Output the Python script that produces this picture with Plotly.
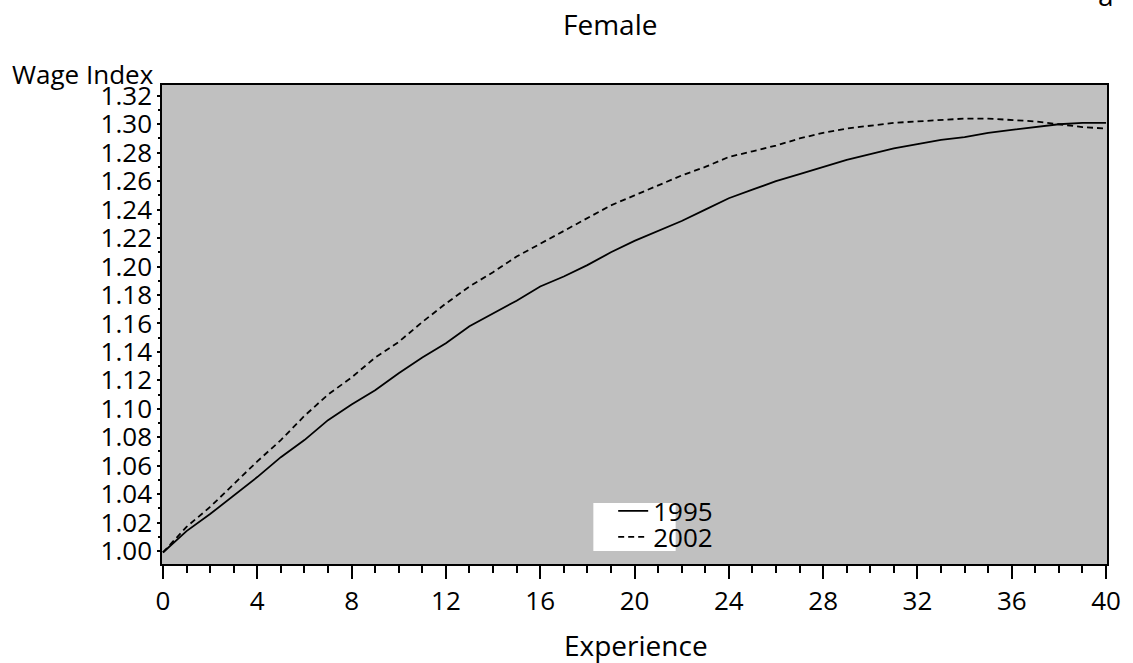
import plotly.graph_objects as go

experience = list(range(0, 41))

wage_1995 = [0.999, 1.014, 1.026, 1.039, 1.052, 1.066, 1.078, 1.092, 1.103, 1.113,
             1.125, 1.136, 1.146, 1.158, 1.167, 1.176, 1.186, 1.193, 1.201, 1.210,
             1.218, 1.225, 1.232, 1.240, 1.248, 1.254, 1.260, 1.265, 1.270, 1.275,
             1.279, 1.283, 1.286, 1.289, 1.291, 1.294, 1.296, 1.298, 1.300, 1.301,
             1.301]

wage_2002 = [0.999, 1.017, 1.031, 1.047, 1.063, 1.078, 1.095, 1.110, 1.122, 1.136,
             1.147, 1.161, 1.174, 1.186, 1.196, 1.207, 1.216, 1.225, 1.234, 1.243,
             1.250, 1.257, 1.264, 1.270, 1.277, 1.281, 1.285, 1.290, 1.294, 1.297,
             1.299, 1.301, 1.302, 1.303, 1.304, 1.304, 1.303, 1.302, 1.300, 1.298,
             1.297]

series_names = ["1995", "2002"]
x_ticks = list(range(0, 41, 4))
y_ticks = [round(1.00 + 0.02 * i, 2) for i in range(17)]

FONT = "Open Sans"
W, H = 1133, 663
# plot area in page pixels
PL, PR, PT, PB = 162, 1115, 85, 564
L, T, R, B = PL, PT, W - PR, H - PB
PW, PH = W - L - R, H - T - B


def px(x):
    return (x - L) / PW


def py(y):
    return (H - B - y) / PH


fig = go.Figure()
fig.add_trace(go.Scatter(x=experience, y=wage_1995, mode="lines", name=series_names[0],
                         line=dict(color="black", width=1.8), legend="legend"))
fig.add_trace(go.Scatter(x=experience, y=wage_2002, mode="lines", name=series_names[1],
                         line=dict(color="black", width=1.8, dash="6px,4px"), legend="legend2"))

leg_common = dict(bgcolor="rgba(0,0,0,0)", borderwidth=0, xanchor="left", yanchor="middle",
                  font=dict(family=FONT, size=26, color="black"))

fig.update_layout(
    width=W, height=H, autosize=False,
    margin=dict(l=L, r=R, t=T, b=B, pad=0),
    paper_bgcolor="white", plot_bgcolor="#C0C0C0",
    font=dict(family=FONT, size=26, color="black"),
    showlegend=True,
    legend=dict(x=px(617), y=py(511), **leg_common),
    legend2=dict(x=px(617), y=py(537), **leg_common),
    xaxis=dict(range=[-0.04, 40.04], tickvals=x_ticks, ticks="outside", ticklen=13,
               tickwidth=1.5, tickcolor="black", showgrid=False, zeroline=False,
               showline=True, linecolor="black", linewidth=1.5, mirror=True,
               ticklabeloverflow="allow",
               tickfont=dict(family=FONT, size=26, color="black"),
               minor=dict(dtick=1, ticks="outside", ticklen=7, tickwidth=1.5,
                          tickcolor="black", showgrid=False)),
    yaxis=dict(range=[0.9909, 1.3276], tickvals=y_ticks, tickformat=".2f", ticks="outside",
               ticklen=3, tickwidth=1.5, tickcolor="black", showgrid=False, zeroline=False,
               showline=True, linecolor="black", linewidth=1.5, mirror=True,
               tickfont=dict(family=FONT, size=26, color="black"),
               minor=dict(dtick=0.01, ticks="outside", ticklen=2, tickwidth=1.5,
                          tickcolor="black", showgrid=False)),
    shapes=[dict(type="rect", xref="paper", yref="paper", x0=px(597), x1=px(680),
                 y0=py(551), y1=py(503), fillcolor="white", line=dict(width=0), layer="above")],
    annotations=[
        dict(text="Female", xref="paper", yref="paper", x=px(614), y=py(24),
             xanchor="center", yanchor="middle", showarrow=False,
             font=dict(family=FONT, size=28, color="black")),
        dict(text="a", xref="paper", yref="paper", x=px(1114), y=py(16),
             xanchor="center", yanchor="bottom", showarrow=False,
             font=dict(family=FONT, size=28, color="black")),
        dict(text="Wage Index", xref="paper", yref="paper", x=px(156), y=py(74),
             xanchor="right", yanchor="middle", showarrow=False,
             font=dict(family=FONT, size=26, color="black")),
        dict(text="Experience", xref="paper", yref="paper", x=px(640), y=py(645),
             xanchor="center", yanchor="middle", showarrow=False,
             font=dict(family=FONT, size=28, color="black")),
    ],
)

# the figure fills the whole window, so drop the page's default body margin
fig.write_html(
    "out.html",
    config={"displayModeBar": False},
    post_script="document.body.style.margin='0';document.body.style.overflow='hidden';",
)
